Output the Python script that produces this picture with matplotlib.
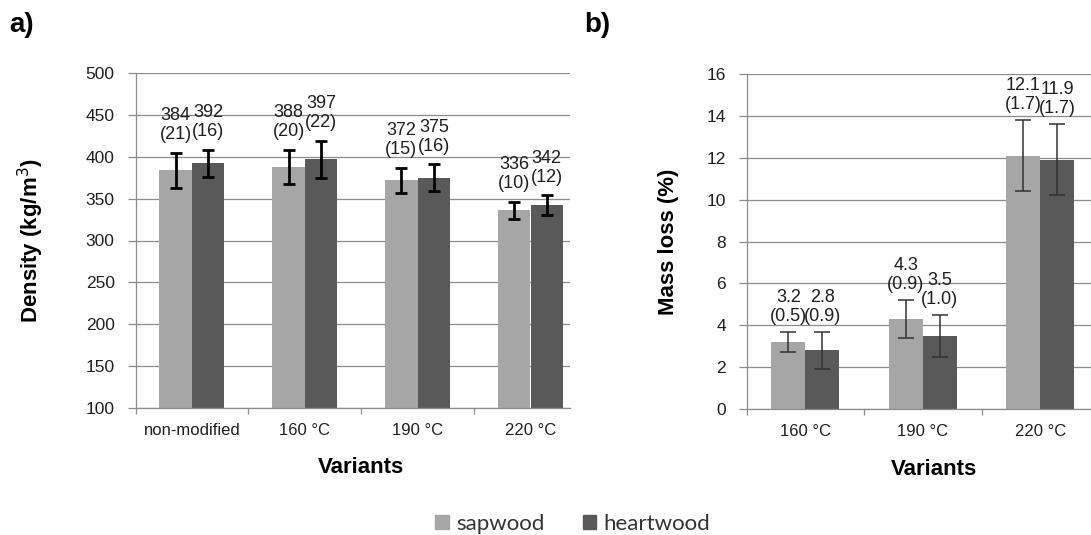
import numpy as np
import matplotlib
matplotlib.use("Agg")
import matplotlib.pyplot as plt

plt.rcParams['font.family'] = ['Liberation Sans', 'DejaVu Sans']

# density data (kg/m3), mean and standard deviation
dens_labels = ['non-modified', '160 °C', '190 °C', '220 °C']
dens_sap = [384, 388, 372, 336]
dens_sap_sd = [21, 20, 15, 10]
dens_heart = [392, 397, 375, 342]
dens_heart_sd = [16, 22, 16, 12]

# mass loss data (%), mean and standard deviation
ml_labels = ['160 °C', '190 °C', '220 °C']
ml_sap = [3.2, 4.3, 12.1]
ml_sap_sd = [0.5, 0.9, 1.7]
ml_heart = [2.8, 3.5, 11.9]
ml_heart_sd = [0.9, 1.0, 1.7]

c_sap = '#a6a6a6'
c_heart = '#595959'
c_grid = '#8c8c8c'
c_text = '#1f1f1f'

W, H = 1091, 535
fig = plt.figure(figsize=(W / 100, H / 100), dpi=100)

# axes boxes in pixels (left, top, right, bottom); both panels are clipped on the right
ax_a = fig.add_axes([135.5 / W, 1 - 408 / H, (570 - 135.5) / W, (408 - 73) / H])
ax_b = fig.add_axes([746.7 / W, 1 - 409 / H, (1091 - 746.7) / W, (409 - 74) / H])


def style_axes(ax, labels, xlim, ylim, ystep):
    ax.set_xlim(*xlim)
    ax.set_ylim(*ylim)
    ax.set_yticks(np.arange(ylim[0], ylim[1] + ystep / 2, ystep))
    ax.yaxis.grid(True, color=c_grid, linewidth=0.9)
    ax.set_axisbelow(True)
    for s in ['top', 'right']:
        ax.spines[s].set_visible(False)
    for s in ['left', 'bottom']:
        ax.spines[s].set_color(c_grid)
        ax.spines[s].set_linewidth(0.9)
    ax.set_xticks(np.arange(len(labels)))
    ax.set_xticklabels(labels)
    ax.set_xticks(np.arange(len(labels)) - 0.5, minor=True)
    ax.tick_params(axis='x', which='major', length=0, pad=11,
                   labelsize=12, labelcolor=c_text)
    ax.tick_params(axis='x', which='minor', length=4, color=c_grid, width=0.9)
    ax.tick_params(axis='y', length=6, color=c_grid, width=0.9, pad=9,
                   labelsize=12.5, labelcolor=c_text)


def bar_pair(ax, sap, sap_sd, heart, heart_sd, w, fmt, err_kw, off):
    x = np.arange(len(sap))
    ax.bar(x - w / 2, sap, w, color=c_sap, zorder=2)
    ax.bar(x + w / 2, heart, w, color=c_heart, zorder=2)
    ax.errorbar(x - w / 2, sap, yerr=sap_sd, fmt='none', zorder=3, **err_kw)
    ax.errorbar(x + w / 2, heart, yerr=heart_sd, fmt='none', zorder=3, **err_kw)
    for xs, vals, sds in [(x - w / 2, sap, sap_sd), (x + w / 2, heart, heart_sd)]:
        for xi, v, s in zip(xs, vals, sds):
            ax.annotate(f'{v:{fmt}}\n({s:{fmt}})', (xi, v + s),
                        xytext=(0, off), textcoords='offset points',
                        ha='center', va='bottom', fontsize=13,
                        color=c_text, linespacing=1.15)


# panel a) density
style_axes(ax_a, dens_labels, (-0.5, 3.35), (100, 500), 50)
bar_pair(ax_a, dens_sap, dens_sap_sd, dens_heart, dens_heart_sd, 0.288, '.0f',
         dict(ecolor='black', elinewidth=2, capsize=4.5, capthick=2), 7)
ax_a.set_ylabel('Density (kg/m$^3$)', fontsize=16, fontweight='bold')
ax_a.yaxis.set_label_coords(-0.205, 0.5)
ax_a.set_xlabel('Variants', fontsize=16, fontweight='bold')
ax_a.xaxis.set_label_coords(0.52, -0.145)

# panel b) mass loss
style_axes(ax_b, ml_labels, (-0.5, 2.432), (0, 16), 2)
bar_pair(ax_b, ml_sap, ml_sap_sd, ml_heart, ml_heart_sd, 0.29, '.1f',
         dict(ecolor='#333333', elinewidth=1.1, capsize=6, capthick=1.1), 5)
ax_b.set_ylabel('Mass loss (%)', fontsize=16, fontweight='bold')
ax_b.yaxis.set_label_coords(-0.197, 0.5)
ax_b.set_xlabel('Variants', fontsize=16, fontweight='bold')
ax_b.xaxis.set_label_coords(0.545, -0.15)

fig.text(9 / W, 1 - 12 / H, 'a)', fontsize=20, fontweight='bold', va='top')
fig.text(584 / W, 1 - 12 / H, 'b)', fontsize=20, fontweight='bold', va='top')

# shared legend at the bottom
handles = [plt.Rectangle((0, 0), 1, 1, color=c_sap),
           plt.Rectangle((0, 0), 1, 1, color=c_heart)]
fig.legend(handles, ['sapwood', 'heartwood'], loc='center',
           bbox_to_anchor=(573 / W, 1 - 524 / H), ncol=2, frameon=False,
           prop={'family': ['Lato', 'DejaVu Sans'], 'size': 16},
           handlelength=0.6, handleheight=0.6, handletextpad=0.35,
           columnspacing=1.7, labelcolor='#333333')

fig.savefig('out.png', dpi=100)
